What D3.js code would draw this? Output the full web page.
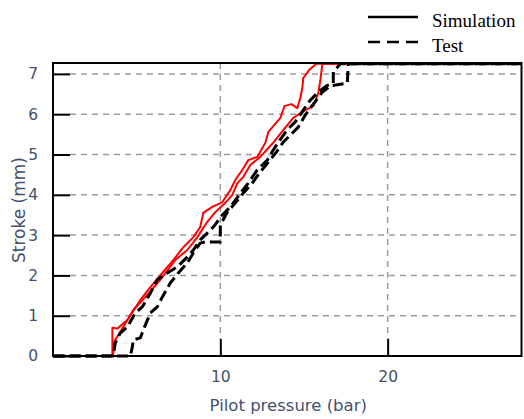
<!DOCTYPE html>
<html>
<head>
<meta charset="utf-8">
<script src="https://cdn.jsdelivr.net/npm/d3@7"></script>
<style>
  html, body { margin: 0; padding: 0; background: #fff; }
  svg { display: block; }
</style>
</head>
<body>
<svg id="chart" width="524" height="419"></svg>
<script>
// Stroke vs. pilot pressure: hysteresis loops (rising / falling pressure)
// Each point is [pilot pressure (bar), stroke (mm)]
const simRise = [
  [0, 0], [3.60, 0], [3.60, 0.32], [4.20, 0.72], [4.80, 1.14], [5.52, 1.46],
  [6.41, 1.89], [7.31, 2.38], [8.03, 2.63], [8.63, 2.95], [9.22, 3.33],
  [9.70, 3.57], [10.30, 3.80], [10.72, 4.00], [11.02, 4.29], [11.37, 4.44],
  [11.79, 4.74], [12.39, 4.94], [13.16, 5.29], [13.77, 5.61], [14.36, 5.91],
  [15.08, 6.10], [15.56, 6.20], [15.86, 6.53], [15.98, 6.85], [16.10, 7.25],
  [28, 7.25]
];
const simFall = [
  [28, 7.25], [15.74, 7.25], [15.32, 7.10], [14.96, 6.90], [14.90, 6.65],
  [14.78, 6.40], [14.60, 6.15], [14.25, 6.25], [13.83, 6.20], [13.59, 5.91],
  [12.87, 5.56], [12.69, 5.29], [12.21, 4.94], [11.67, 4.86], [11.32, 4.62],
  [10.90, 4.37], [10.60, 4.12], [10.12, 3.82], [9.52, 3.70], [8.98, 3.55],
  [8.80, 3.20], [8.39, 2.95], [7.79, 2.70], [7.19, 2.38], [6.53, 2.06],
  [5.82, 1.71], [5.22, 1.39], [4.44, 0.89], [3.85, 0.68], [3.55, 0.70],
  [3.55, 0], [0, 0]
];
const testRise = [
  [0, 0], [4.62, 0], [4.74, 0.22], [4.80, 0.40], [5.22, 0.45], [5.40, 0.65],
  [5.64, 0.89], [5.82, 1.07], [6.23, 1.22], [6.53, 1.46], [7.01, 1.81],
  [7.49, 2.06], [8.03, 2.31], [8.39, 2.56], [8.80, 2.80], [9.10, 2.83],
  [10.00, 2.83], [10.00, 3.25], [10.42, 3.57], [10.90, 3.80], [11.37, 4.04],
  [11.91, 4.29], [12.39, 4.57], [12.87, 4.81], [13.35, 5.06], [13.77, 5.31],
  [14.18, 5.48], [14.66, 5.68], [15.08, 5.98], [15.38, 6.15], [15.74, 6.35],
  [16.10, 6.55], [16.58, 6.70], [17.59, 6.77], [17.65, 7.25], [28, 7.25]
];
const testFall = [
  [28, 7.25], [17.17, 7.25], [16.75, 7.05], [16.75, 6.77], [16.34, 6.70],
  [15.86, 6.55], [15.38, 6.35], [14.96, 6.10], [14.48, 5.81], [13.99, 5.61],
  [13.57, 5.36], [13.16, 5.11], [12.81, 4.86], [12.21, 4.62], [11.67, 4.29],
  [11.20, 4.04], [10.60, 3.70], [10.12, 3.50], [9.58, 3.20], [9.22, 3.05],
  [8.80, 2.88], [8.39, 2.63], [8.03, 2.46], [7.43, 2.21], [6.83, 2.06],
  [6.23, 1.89], [5.82, 1.56], [5.34, 1.22], [4.92, 1.07], [4.44, 0.72],
  [4.02, 0.57], [3.72, 0.32], [3.60, 0], [0, 0]
];
const yTicks = [0, 1, 2, 3, 4, 5, 6, 7];
const xTicks = [10, 20];
const legendLabels = ["Simulation", "Test"];

const svg = d3.select("#chart");
const plotLeft = 53, plotRight = 521.5, plotTop = 63, plotBottom = 356;
const x = d3.scaleLinear().domain([0, 28]).range([plotLeft, plotRight]);
const y = d3.scaleLinear().domain([0, 7.27]).range([plotBottom, plotTop]);
const textColor = "#44506e";

// grid
const grid = svg.append("g")
  .attr("stroke", "#9a9a9a").attr("stroke-width", 1.5)
  .attr("stroke-dasharray", "6,5");
grid.selectAll("line.h").data(yTicks.filter(d => d > 0)).join("line")
  .attr("class", "h")
  .attr("x1", plotLeft + 17).attr("x2", plotRight)
  .attr("y1", d => y(d)).attr("y2", d => y(d));
grid.selectAll("line.v").data(xTicks).join("line")
  .attr("class", "v")
  .attr("x1", d => x(d)).attr("x2", d => x(d))
  .attr("y1", plotTop).attr("y2", plotBottom - 17);

// axes with inward ticks
const yAxis = svg.append("g")
  .attr("transform", `translate(${plotLeft},0)`)
  .call(d3.axisLeft(y).tickValues(yTicks).tickSize(-17).tickPadding(15).tickFormat(d3.format("d")));
const xAxis = svg.append("g")
  .attr("transform", `translate(0,${plotBottom})`)
  .call(d3.axisBottom(x).tickValues(xTicks).tickSize(-17).tickPadding(15).tickFormat(d3.format("d")));
[yAxis, xAxis].forEach(g => {
  g.select(".domain").remove();
  g.selectAll(".tick line").attr("stroke", "#000").attr("stroke-width", 2);
  g.selectAll(".tick text")
    .attr("fill", textColor)
    .attr("font-family", "'DejaVu Sans', sans-serif")
    .attr("font-size", 15.5);
});

// curves
const line = d3.line().x(d => x(d[0])).y(d => y(d[1]));
const curves = svg.append("g").attr("fill", "none").attr("stroke-linejoin", "round");
[simRise, simFall].forEach(s => {
  curves.append("path").attr("d", line(s))
    .attr("stroke", "#ff0000").attr("stroke-width", 2);
});
[testRise, testFall].forEach(s => {
  curves.append("path").attr("d", line(s))
    .attr("stroke", "#000").attr("stroke-width", 3)
    .attr("stroke-dasharray", "11,5");
});

// frame
svg.append("rect")
  .attr("x", plotLeft).attr("y", plotTop)
  .attr("width", plotRight - plotLeft).attr("height", plotBottom - plotTop)
  .attr("fill", "none").attr("stroke", "#000").attr("stroke-width", 2);

// axis titles
svg.append("text")
  .attr("x", (plotLeft + plotRight) / 2 + 1).attr("y", 411)
  .attr("text-anchor", "middle")
  .attr("fill", textColor)
  .attr("font-family", "'DejaVu Sans', sans-serif").attr("font-size", 16.5)
  .text("Pilot pressure (bar)");
svg.append("text")
  .attr("transform", "translate(25,210) rotate(-90)")
  .attr("text-anchor", "middle")
  .attr("fill", textColor)
  .attr("font-family", "'DejaVu Sans', sans-serif").attr("font-size", 17)
  .text("Stroke (mm)");

// legend
const legend = svg.append("g");
const styles = [{ dash: null }, { dash: "12,7" }];
legendLabels.forEach((lab, i) => {
  const ly = 17 + i * 25;
  legend.append("line")
    .attr("x1", 368).attr("x2", 418).attr("y1", ly).attr("y2", ly)
    .attr("stroke", "#000").attr("stroke-width", 2.5)
    .attr("stroke-dasharray", styles[i].dash);
  legend.append("text")
    .attr("x", 432).attr("y", ly + 10)
    .attr("fill", "#000")
    .attr("font-family", "'Liberation Serif', 'Times New Roman', serif")
    .attr("font-size", 19)
    .text(lab);
});
</script>
</body>
</html>
